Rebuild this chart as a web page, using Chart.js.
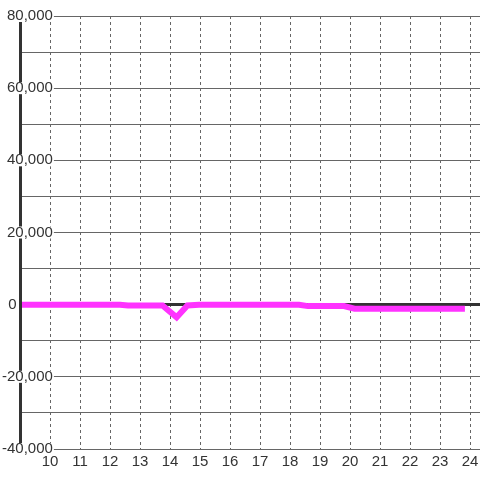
<!DOCTYPE html>
<html>
<head>
<meta charset="utf-8">
<script src="https://cdn.jsdelivr.net/npm/chart.js@4/dist/chart.umd.min.js"></script>
<style>
  html, body { margin: 0; padding: 0; background: #fff; }
  canvas { display: block; }
</style>
</head>
<body>
<canvas id="chart" width="480" height="480"></canvas>
<script>
// 時刻 (時) と値
const hours  = [9, 12.33, 12.6, 13.75, 14.22, 14.58, 14.97, 18.3, 18.6, 19.8, 20.15, 23.83];
const values = [0, 0, -200, -200, -3500, -200, 0, 0, -400, -400, -1100, -1100];

// 目盛り
const hourTicks = [10, 11, 12, 13, 14, 15, 16, 17, 18, 19, 20, 21, 22, 23, 24];
const yMin = -40000;
const yMax = 80000;
const yStep = 10000;

const fontFamily = "'Liberation Sans', Arial, sans-serif";

const points = hours.map((h, i) => ({ x: h, y: values[i] }));

new Chart(document.getElementById('chart'), {
    type: 'line',
    data: {
        datasets: [{
            data: points,
            borderColor: '#ff33ff',
            borderWidth: 6,
            pointRadius: 0,
            tension: 0,
            fill: false
        }]
    },
    options: {
        responsive: false,
        animation: false,
        layout: { padding: { top: 16, bottom: 5, left: 0, right: 0 } },
        plugins: {
            legend: { display: false },
            tooltip: { enabled: false }
        },
        scales: {
            x: {
                type: 'linear',
                min: 9,
                max: 24.333,
                afterBuildTicks: (scale) => {
                    scale.ticks = hourTicks.map(v => ({ value: v }));
                },
                afterFit: (scale) => {
                    scale.paddingLeft = 0;
                    scale.paddingRight = 0;
                },
                grid: {
                    color: '#666',
                    lineWidth: 1,
                    drawTicks: false
                },
                border: { display: false, dash: [3, 3] },
                ticks: {
                    padding: 4,
                    color: '#333',
                    font: { family: fontFamily, size: 15 },
                    maxRotation: 0,
                    autoSkip: false
                }
            },
            y: {
                min: yMin,
                max: yMax,
                afterFit: (scale) => { scale.width = 20; },
                grid: {
                    drawTicks: false,
                    color: (ctx) => ctx.tick && ctx.tick.value === 0 ? '#333' : '#666',
                    lineWidth: (ctx) => ctx.tick && ctx.tick.value === 0 ? 3 : 1
                },
                border: { display: true, color: '#333', width: 3, z: 1 },
                ticks: {
                    stepSize: yStep,
                    mirror: true,
                    crossAlign: 'far',
                    padding: -18,
                    z: 2,
                    color: '#333',
                    font: { family: fontFamily, size: 15, lineHeight: 0.8 },
                    showLabelBackdrop: (ctx) => ctx.tick.value % 20000 === 0 && ctx.tick.value !== 0,
                    backdropColor: '#fff',
                    backdropPadding: { left: 1, right: 1, top: 0, bottom: 0 },
                    callback: (v) => {
                        if (v % 20000 !== 0) return '';
                        if (v === 0) return '0        \u2009';
                        return v.toLocaleString('en-US');
                    }
                }
            }
        }
    }
});
</script>
</body>
</html>
